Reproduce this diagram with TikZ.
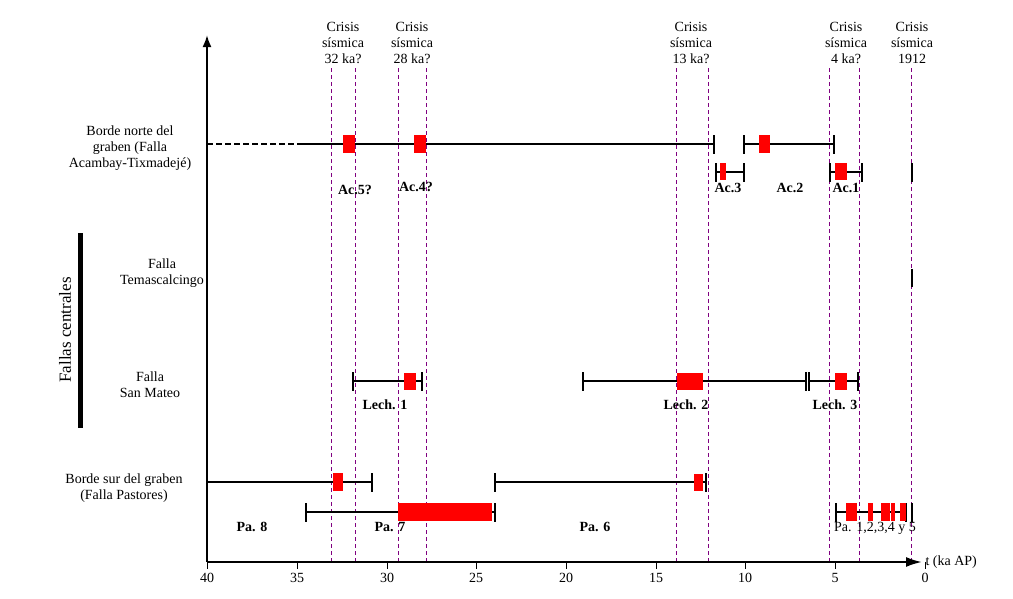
\documentclass[tikz,border=0pt]{standalone}
\usepackage{fontspec}
\setmainfont{Liberation Serif}
\usetikzlibrary{arrows.meta}
\begin{document}
\begin{tikzpicture}[x=1pt,y=-1pt,
  seg/.style={line width=2pt},
  tk/.style={line width=2pt},
  ev/.style={fill=red,draw=none},
  crisis/.style={draw=violet,dash pattern=on 4pt off 3pt,line width=0.8pt},
  lab/.style={font=\bfseries\fontsize{14}{15}\selectfont},
  txt/.style={align=center,font=\fontsize{14}{16}\selectfont}]
\useasboundingbox (0,0) rectangle (1013,598);
% crisis lines
\foreach \x in {331,355,398,426,676,708,829,859,911}{\draw[crisis] (\x,68) -- (\x,562);}
\node[txt] (c1) at (343,43) {Crisis\\sísmica\\32 ka?};
\node[txt] (c2) at (412,43) {Crisis\\sísmica\\28 ka?};
\node[txt] (c3) at (691,43) {Crisis\\sísmica\\13 ka?};
\node[txt] (c4) at (846,43) {Crisis\\sísmica\\4 ka?};
\node[txt] (c5) at (912,43) {Crisis\\sísmica\\1912};
% axes
\coordinate (o) at (207,562);
\coordinate (ytop) at (207,35);
\coordinate (xend) at (922,562);
\draw[line width=2pt,-{Latex[length=12pt,width=9pt]}] (o) -- (ytop);
\draw[line width=2pt,-{Latex[length=16pt,width=10pt]}] (o) -- (xend);
\node[txt,anchor=west] (xl) at (922,562) {t (ka AP)};
\foreach \v/\x in {40/207,35/297,30/387,25/476,20/566,15/656,10/745,5/835,0/925}{
  \draw[line width=1pt] (\x,562) -- (\x,569);
  \node[txt] at (\x,578) {\v};}
% left labels
\node[txt] (n1) at (130,148) {Borde norte del\\graben (Falla\\Acambay-Tixmadejé)};
\node[txt] (n2) at (162,273) {Falla\\Temascalcingo};
\node[txt] (n3) at (150,385) {Falla\\San Mateo};
\node[txt] (n4) at (124,488) {Borde sur del graben\\(Falla Pastores)};
\draw[line width=5pt] (80,233) -- (80,428);
\node[txt,rotate=90] (fc) at (65,330) {\fontsize{17}{18}\selectfont Fallas centrales};
% top row
\draw[seg,dash pattern=on 6pt off 3pt] (207,144) -- (300,144);
\draw[seg] (300,144) -- (714,144);
\draw[tk] (714,135) -- (714,154);
\fill[ev] (343,135) rectangle (355,153);
\fill[ev] (414,135) rectangle (426,153);
\draw[seg] (744,144) -- (834,144);
\draw[tk] (744,135) -- (744,154); \draw[tk] (834,135) -- (834,154);
\fill[ev] (759,135) rectangle (770,153);
\draw[seg] (716,172) -- (744,172);
\draw[tk] (716,163) -- (716,182); \draw[tk] (744,163) -- (744,182);
\fill[ev] (720,163) rectangle (726,180);
\draw[seg] (830,172) -- (862,172);
\draw[tk] (830,163) -- (830,182); \draw[tk] (862,163) -- (862,182);
\fill[ev] (835,163) rectangle (847,180);
\draw[line width=1.2pt] (912,163) -- (912,182);
\node[lab] at (355,190) {Ac.5?};
\node[lab] at (416,187) {Ac.4?};
\node[lab] at (728,188) {Ac.3};
\node[lab] at (790,188) {Ac.2};
\node[lab] at (846,188) {Ac.1};
% Temascalcingo
\draw[line width=1.2pt] (912,269) -- (912,287);
% San Mateo
\draw[seg] (353,381) -- (422,381);
\draw[tk] (353,372) -- (353,391); \draw[tk] (422,372) -- (422,391);
\fill[ev] (404,373) rectangle (416,390);
\draw[seg] (583,381) -- (806,381);
\draw[tk] (583,372) -- (583,391); \draw[tk] (806,372) -- (806,391);
\fill[ev] (677,373) rectangle (703,390);
\draw[seg] (809,381) -- (858,381);
\draw[tk] (809,372) -- (809,391); \draw[tk] (858,372) -- (858,391);
\fill[ev] (835,373) rectangle (847,390);
\node[lab] at (385,405) {Lech. 1};
\node[lab] at (686,405) {Lech. 2};
\node[lab] at (835,405) {Lech. 3};
% Borde sur
\draw[seg] (207,482) -- (372,482);
\draw[tk] (207,473) -- (207,492); \draw[tk] (372,473) -- (372,492);
\fill[ev] (333,473) rectangle (343,491);
\draw[seg] (495,482) -- (706,482);
\draw[tk] (495,473) -- (495,492); \draw[tk] (706,473) -- (706,492);
\fill[ev] (694,474) rectangle (703,491);
\draw[seg] (306,512) -- (495,512);
\draw[tk] (306,503) -- (306,522); \draw[tk] (495,503) -- (495,522);
\fill[ev] (398,503) rectangle (492,521);
\draw[seg] (836,512) -- (906,512);
\draw[tk] (836,503) -- (836,522); \draw[tk] (906,503) -- (906,522);
\foreach \a/\b in {846/857,868/873,881/890,891/895,900/906}{\fill[ev] (\a,503) rectangle (\b,521);}
\draw[line width=1.2pt] (912,503) -- (912,522);
\node[lab] at (252,527) {Pa. 8};
\node[lab] at (390,527) {Pa. 7};
\node[lab] at (595,527) {Pa. 6};
\node[txt] at (875,528) {Pa. 1,2,3,4 y 5};
\end{tikzpicture}
\end{document}
